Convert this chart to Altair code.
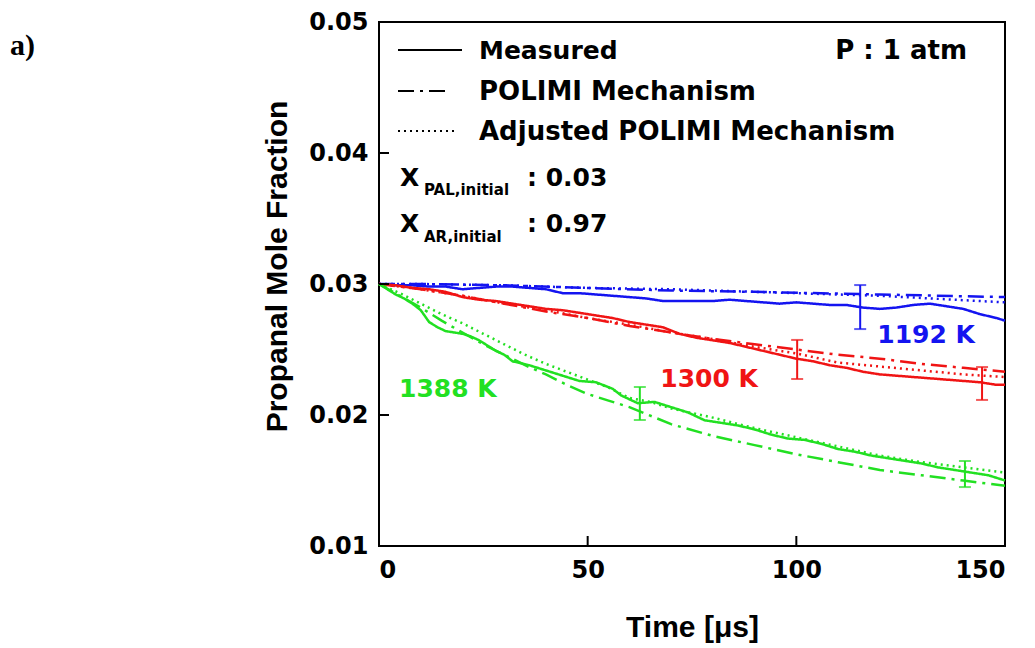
import altair as alt
import pandas as pd

# ---------------- data ----------------
# 1192 K
blue_meas_t = [0, 4, 8, 12, 16, 20, 24, 28, 32, 36, 40, 44, 48, 52, 56, 60, 64, 68, 72, 76, 80, 84, 88, 92, 96, 100,
               104, 108, 112, 116, 120, 124, 128, 132, 136, 140, 144, 148, 150]
blue_meas_y = [0.0300, 0.0299, 0.0299, 0.0298, 0.0298, 0.0296, 0.0297, 0.0298, 0.0298, 0.0297, 0.0296, 0.0293,
               0.0293, 0.0292, 0.0291, 0.0290, 0.0289, 0.0287, 0.0287, 0.0287, 0.0287, 0.0288, 0.0287, 0.0286,
               0.0285, 0.0286, 0.0285, 0.0284, 0.0284, 0.0282, 0.0281, 0.0282, 0.0284, 0.0285, 0.0283, 0.0281,
               0.0277, 0.0274, 0.0272]
blue_polimi_t = [0, 10, 30, 50, 70, 90, 120, 150]
blue_polimi_y = [0.0300, 0.0300, 0.0299, 0.0297, 0.0295, 0.0294, 0.0292, 0.0290]
blue_adj_t = [0, 10, 30, 50, 70, 90, 120, 150]
blue_adj_y = [0.0300, 0.0300, 0.0299, 0.0297, 0.0296, 0.0294, 0.0291, 0.0286]

# 1300 K
red_meas_t = [0, 4, 8, 12, 16, 20, 24, 28, 32, 36, 40, 44, 48, 52, 56, 60, 64, 68, 72, 76, 80, 84, 88, 92, 96, 100,
              104, 108, 112, 116, 120, 124, 128, 132, 136, 140, 144, 148, 150]
red_meas_y = [0.0300, 0.0299, 0.0297, 0.0296, 0.0294, 0.0290, 0.0288, 0.0287, 0.0285, 0.0283, 0.0281, 0.0280,
              0.0278, 0.0276, 0.0274, 0.0271, 0.0269, 0.0267, 0.0262, 0.0259, 0.0257, 0.0255, 0.0252, 0.0249,
              0.0246, 0.0243, 0.0241, 0.0238, 0.0236, 0.0233, 0.0231, 0.0230, 0.0229, 0.0228, 0.0227, 0.0226,
              0.0225, 0.0223, 0.0223]
red_polimi_t = [0, 10, 20, 30, 40, 50, 60, 70, 80, 90, 100, 110, 120, 130, 140, 150]
red_polimi_y = [0.0300, 0.0296, 0.0291, 0.0285, 0.0279, 0.0274, 0.0268, 0.0263, 0.0258, 0.0254, 0.0250, 0.0246,
                0.0243, 0.0239, 0.0236, 0.0233]
red_adj_t = [0, 10, 20, 30, 40, 50, 60, 70, 80, 90, 100, 110, 120, 130, 140, 150]
red_adj_y = [0.0300, 0.0296, 0.0291, 0.0285, 0.0280, 0.0274, 0.0269, 0.0263, 0.0258, 0.0252, 0.0247, 0.0240,
             0.0237, 0.0234, 0.0231, 0.0229]

# 1388 K
green_meas_t = [0, 2, 4, 6, 8, 10, 12, 14, 16, 18, 20, 22, 24, 26, 28, 30, 32, 36, 40, 44, 48, 52, 56, 58, 60, 62,
                66, 70, 74, 78, 82, 86, 90, 94, 98, 102, 106, 110, 114, 118, 122, 126, 130, 134, 138, 142, 146, 150]
green_meas_y = [0.0300, 0.0296, 0.0292, 0.0289, 0.0285, 0.0280, 0.0271, 0.0267, 0.0264, 0.0263, 0.0262, 0.0260,
                0.0257, 0.0253, 0.0249, 0.0246, 0.0241, 0.0238, 0.0234, 0.0230, 0.0226, 0.0225, 0.0220, 0.0215,
                0.0212, 0.0209, 0.0210, 0.0206, 0.0202, 0.0196, 0.0194, 0.0192, 0.0189, 0.0185, 0.0182, 0.0181,
                0.0178, 0.0174, 0.0172, 0.0169, 0.0167, 0.0165, 0.0163, 0.0160, 0.0158, 0.0156, 0.0154, 0.0150]
green_polimi_t = [0, 5, 10, 15, 20, 25, 30, 35, 40, 45, 50, 55, 60, 70, 80, 90, 100, 110, 120, 130, 140, 150]
green_polimi_y = [0.0300, 0.0291, 0.0282, 0.0272, 0.0263, 0.0254, 0.0246, 0.0238, 0.0231, 0.0223, 0.0216, 0.0211,
                  0.0206, 0.0193, 0.0184, 0.0177, 0.0170, 0.0164, 0.0158, 0.0154, 0.0150, 0.0146]
green_adj_t = [0, 5, 10, 15, 20, 25, 30, 35, 40, 45, 50, 55, 60, 65, 70, 80, 90, 100, 110, 120, 130, 140, 150]
green_adj_y = [0.0300, 0.0293, 0.0285, 0.0277, 0.0270, 0.0262, 0.0254, 0.0246, 0.0239, 0.0233, 0.0227, 0.0221,
               0.0213, 0.0210, 0.0205, 0.0198, 0.0190, 0.0183, 0.0176, 0.0169, 0.0164, 0.0160, 0.0156]

# error bars (temperature, time, low, high)
err_temp = ["1192 K", "1300 K", "1300 K", "1388 K", "1388 K"]
err_t = [115.3, 100.2, 144.5, 62.5, 140.4]
err_lo = [0.02656, 0.02275, 0.02115, 0.01962, 0.01450]
err_hi = [0.02992, 0.02573, 0.02366, 0.02214, 0.01649]

# curve labels
lab_text = ["1192 K", "1300 K", "1388 K"]
lab_t = [131.1, 79.1, 16.5]
lab_y = [0.02550, 0.02214, 0.02137]

temps = ["1192 K", "1300 K", "1388 K"]
colors = ["#1414f0", "#f01414", "#22e022"]
kinds = ["Measured", "POLIMI Mechanism", "Adjusted POLIMI Mechanism"]
dashes = [[1, 0], [16, 6, 3, 6], [2, 4]]

x_ticks = [0, 50, 100, 150]
y_ticks = [0.01, 0.02, 0.03, 0.04, 0.05]
x_inner = [50, 100]
y_inner = [0.02, 0.03, 0.04]

# ---------------- build tables ----------------
series = [
    ("1192 K", "Measured", blue_meas_t, blue_meas_y),
    ("1192 K", "POLIMI Mechanism", blue_polimi_t, blue_polimi_y),
    ("1192 K", "Adjusted POLIMI Mechanism", blue_adj_t, blue_adj_y),
    ("1300 K", "Measured", red_meas_t, red_meas_y),
    ("1300 K", "POLIMI Mechanism", red_polimi_t, red_polimi_y),
    ("1300 K", "Adjusted POLIMI Mechanism", red_adj_t, red_adj_y),
    ("1388 K", "Measured", green_meas_t, green_meas_y),
    ("1388 K", "POLIMI Mechanism", green_polimi_t, green_polimi_y),
    ("1388 K", "Adjusted POLIMI Mechanism", green_adj_t, green_adj_y),
]
rows = []
for temp, kind, ts, ys in series:
    for i, (t, y) in enumerate(zip(ts, ys)):
        rows.append({"temp": temp, "kind": kind, "t": t, "y": y, "order": i})
df = pd.DataFrame(rows)

err_df = pd.DataFrame({"temp": err_temp, "t": err_t, "lo": err_lo, "hi": err_hi})
lab_df = pd.DataFrame({"temp": lab_text, "t": lab_t, "y": lab_y, "text": lab_text})
xin_df = pd.DataFrame({"t": x_inner})
yin_df = pd.DataFrame({"y": y_inner})

W, H = 626, 524
FONT = "DejaVu Sans"

xscale = alt.Scale(domain=[0, 150], nice=False, zero=False)
yscale = alt.Scale(domain=[0.01, 0.05], nice=False, zero=False)
cscale = alt.Scale(domain=temps, range=colors)

x_axis = alt.Axis(values=x_ticks, format="d", title="Time [\u03bcs]", grid=False, domain=False, ticks=False,
                  labelFont=FONT, labelFontWeight="bold", labelFontSize=24, labelPadding=12, labelColor="black",
                  titleFont="Liberation Sans", titleFontWeight="bold", titleFontSize=30, titleColor="black",
                  titleY=90, titleBaseline="alphabetic")
y_axis = alt.Axis(values=y_ticks, format=".2f", title="Propanal Mole Fraction", grid=False, domain=False,
                  ticks=False, labelFont=FONT, labelFontWeight="bold", labelFontSize=24, labelPadding=11,
                  labelColor="black", titleFont="Liberation Sans", titleFontWeight="bold", titleFontSize=30,
                  titleColor="black", titleX=-93, titleY=244, titleAngle=270, titleAlign="center",
                  titleBaseline="alphabetic")

lines = alt.Chart(df).mark_line(strokeWidth=2.5).encode(
    x=alt.X("t:Q", scale=xscale, axis=x_axis),
    y=alt.Y("y:Q", scale=yscale, axis=y_axis),
    color=alt.Color("temp:N", scale=cscale, legend=None),
    strokeDash=alt.StrokeDash("kind:N", scale=alt.Scale(domain=kinds, range=dashes), legend=None),
    order="order:Q",
)

err_rule = alt.Chart(err_df).mark_rule(strokeWidth=2).encode(
    x="t:Q", y="lo:Q", y2="hi:Q", color=alt.Color("temp:N", scale=cscale, legend=None))
err_lo_tick = alt.Chart(err_df).mark_tick(orient="horizontal", size=12, thickness=2).encode(
    x="t:Q", y="lo:Q", color=alt.Color("temp:N", scale=cscale, legend=None))
err_hi_tick = alt.Chart(err_df).mark_tick(orient="horizontal", size=12, thickness=2).encode(
    x="t:Q", y="hi:Q", color=alt.Color("temp:N", scale=cscale, legend=None))

labels = alt.Chart(lab_df).mark_text(font=FONT, fontWeight="bold", fontSize=25, align="center",
                                     baseline="alphabetic").encode(
    x="t:Q", y="y:Q", text="text:N", color=alt.Color("temp:N", scale=cscale, legend=None))

# inner ticks
xin = alt.Chart(xin_df).mark_rule(color="black", strokeWidth=2).encode(
    x="t:Q", y=alt.value(H), y2=alt.value(H - 10))
yin = alt.Chart(yin_df).mark_rule(color="black", strokeWidth=2).encode(
    y="y:Q", x=alt.value(0), x2=alt.value(10))

# legend inside plot
leg_lines = []
for kind, ypos, x2 in [(kinds[0], 28, 83), (kinds[1], 69, 66), (kinds[2], 109, 79)]:
    dash = dashes[kinds.index(kind)]
    leg_lines.append(
        alt.Chart(pd.DataFrame({"k": [kind]})).mark_rule(color="black", strokeWidth=2, strokeDash=dash).encode(
            x=alt.value(19), x2=alt.value(x2), y=alt.value(ypos)))

def txt(s, x, y, size=25, align="left", font=FONT):
    return alt.Chart(pd.DataFrame({"s": [s]})).mark_text(
        font=font, fontWeight="bold", fontSize=size, align=align, baseline="alphabetic", color="black"
    ).encode(text="s:N", x=alt.value(x), y=alt.value(y))

texts = [
    txt(kinds[0], 100, 37),
    txt(kinds[1], 100, 78, size=26),
    txt(kinds[2], 100, 118, size=26),
    txt("P : 1 atm", 588, 37, align="right", size=26),
    txt("X", 21, 164),
    txt("PAL,initial", 45, 173, size=15),
    txt(": 0.03", 148, 164),
    txt("X", 21, 210),
    txt("AR,initial", 45, 220, size=15),
    txt(": 0.97", 148, 210),
    txt("a)", -369, 33, size=30, font="Liberation Serif"),
]

chart = alt.layer(lines, err_rule, err_lo_tick, err_hi_tick, labels, xin, yin, *leg_lines, *texts).properties(
    width=W, height=H,
    padding={"left": 379, "top": 22, "right": 30, "bottom": 102},
    autosize=alt.AutoSizeParams(type="none"),
    background="white",
).configure_view(stroke="black", strokeWidth=2)

chart.save("out.html", embed_options={"renderer": "svg", "actions": False})
